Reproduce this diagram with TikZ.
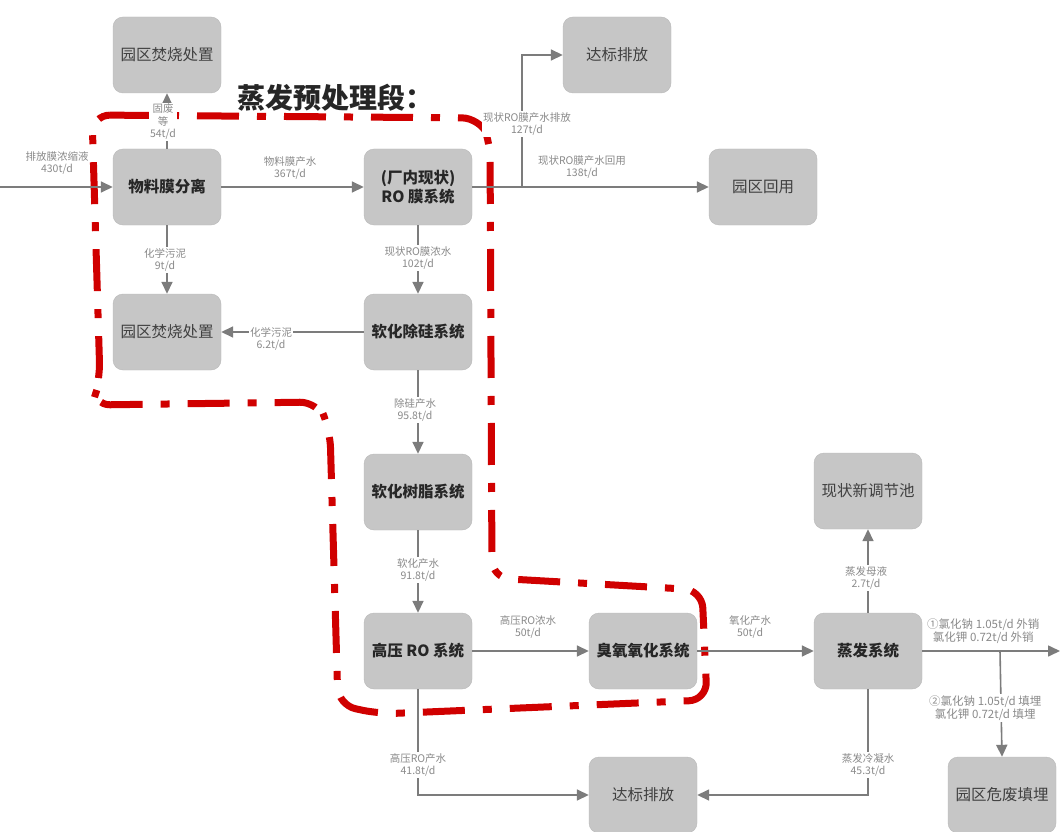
\documentclass[tikz,border=0pt]{standalone}
\usepackage{fontspec}
\setmainfont{Noto Sans CJK SC}
\newfontfamily\cjk{Noto Sans CJK SC}
\usetikzlibrary{arrows.meta}
\definecolor{boxfill}{HTML}{C6C6C6}
\definecolor{boxline}{HTML}{B8B8B8}
\definecolor{flow}{HTML}{7C7C7C}
\definecolor{lbl}{HTML}{8A8A8A}
\definecolor{bred}{HTML}{D00000}
\tikzset{
  unit/.style={draw=boxline, fill=boxfill, rounded corners=10pt, minimum width=108pt,
    minimum height=76pt, align=center, inner sep=2pt,
    font=\cjk\fontsize{15.5}{19}\selectfont, text=black!75},
  mainunit/.style={unit, font=\cjk\bfseries\fontsize{15.5}{19}\selectfont, text=black!85},
  flowline/.style={draw=flow, line width=1.6pt, -{Triangle[length=12pt,width=11pt]}},
  flowlbl/.style={text=lbl, align=center, font=\cjk\fontsize{10.5}{12.5}\selectfont, inner sep=1pt},
  onlbl/.style={flowlbl, fill=white},
  zone/.style={draw=bred, line width=7pt, rounded corners=18pt,
    dash pattern=on 42pt off 18pt on 9pt off 18pt}
}
\begin{document}
\begin{tikzpicture}[x=1pt,y=-1pt]
\useasboundingbox (0,0) rectangle (1060,832);
\fill[white] (0,0) rectangle (1060,832);

% nodes
\node[unit] (burnA) at (167,55) {园区焚烧处置};
\node[mainunit] (sep) at (167,187) {物料膜分离};
\node[unit] (burnB) at (167,332) {园区焚烧处置};
\node[mainunit] (ro) at (418,187) {(厂内现状)\\RO 膜系统};
\node[mainunit] (soft) at (418,332) {软化除硅系统};
\node[mainunit] (resin) at (418,492) {软化树脂系统};
\node[mainunit] (hpro) at (418,651) {高压 RO 系统};
\node[mainunit] (ozone) at (643,651) {臭氧氧化系统};
\node[mainunit] (evap) at (868,651) {蒸发系统};
\node[unit] (pool) at (868,491) {现状新调节池};
\node[unit] (dischA) at (617,55) {达标排放};
\node[unit] (reuse) at (763,187) {园区回用};
\node[unit] (dischB) at (643,795) {达标排放};
\node[unit] (landfill) at (1002,795) {园区危废填埋};

\coordinate (inlet) at (0,187);
\coordinate (split) at (522,187);
\coordinate (outR) at (1060,651);
\coordinate (branch) at (1000,651);

% title
\node[font=\cjk\bfseries\fontsize{28}{32}\selectfont, text=black!85, anchor=west] (title) at (234,98) {蒸发预处理段：};

% red boundary
\draw[zone] (92,115) -- (480,118) -- (490,140) -- (492,578) -- (702,590) -- (707,700)
  -- (380,714) -- (338,705) -- (330,430) -- (318,402) -- (92,405) -- (100,380) -- cycle;

% connectors
\draw[flowline] (inlet) -- (sep.west);
\node[flowlbl] (l1) at (57,163) {排放膜浓缩液\\430t/d};

\draw[flowline] (sep.north) -- (burnA.south);
\node[onlbl] (l2) at (163,122) {固废\\等\\54t/d};

\draw[flowline] (sep.east) -- (ro.west);
\node[flowlbl] (l3) at (290,168) {物料膜产水\\367t/d};

\draw[flowline] (sep.south) -- (burnB.north);
\node[onlbl] (l4) at (165,260) {化学污泥\\9t/d};

\draw[flowline] (ro.east) -- (reuse.west);
\node[flowlbl] (l5) at (582,167) {现状RO膜产水回用\\138t/d};

\draw[flowline] (split) |- (dischA.west);
\node[onlbl] (l6) at (527,124) {现状RO膜产水排放\\127t/d};

\draw[flowline] (ro.south) -- (soft.north);
\node[onlbl] (l7) at (418,258) {现状RO膜浓水\\102t/d};

\draw[flowline] (soft.west) -- (burnB.east);
\node[onlbl] (l8) at (271,339) {化学污泥\\6.2t/d};

\draw[flowline] (soft.south) -- (resin.north);
\node[onlbl] (l9) at (415,410) {除硅产水\\95.8t/d};

\draw[flowline] (resin.south) -- (hpro.north);
\node[onlbl] (l10) at (418,570) {软化产水\\91.8t/d};

\draw[flowline] (hpro.east) -- (ozone.west);
\node[flowlbl] (l11) at (528,627) {高压RO浓水\\50t/d};

\draw[flowline] (ozone.east) -- (evap.west);
\node[flowlbl] (l12) at (750,627) {氧化产水\\50t/d};

\draw[flowline] (evap.north) -- (pool.south);
\node[onlbl] (l13) at (866,578) {蒸发母液\\2.7t/d};

\draw[flowline] (evap.east) -- (outR);
\node[flowlbl, anchor=west, font=\cjk\fontsize{11.5}{13.5}\selectfont] (l14) at (926,631) {①氯化钠 1.05t/d 外销\\氯化钾 0.72t/d 外销};

\draw[flowline] (branch) -- (landfill.north);
\node[onlbl, anchor=west, font=\cjk\fontsize{11.5}{13.5}\selectfont] (l15) at (928,708) {②氯化钠 1.05t/d 填埋\\氯化钾 0.72t/d 填埋};

\draw[flowline] (hpro.south) |- (dischB.west);
\node[onlbl] (l16) at (418,765) {高压RO产水\\41.8t/d};

\draw[flowline] (evap.south) |- (dischB.east);
\node[onlbl] (l17) at (868,765) {蒸发冷凝水\\45.3t/d};
\end{tikzpicture}
\end{document}
